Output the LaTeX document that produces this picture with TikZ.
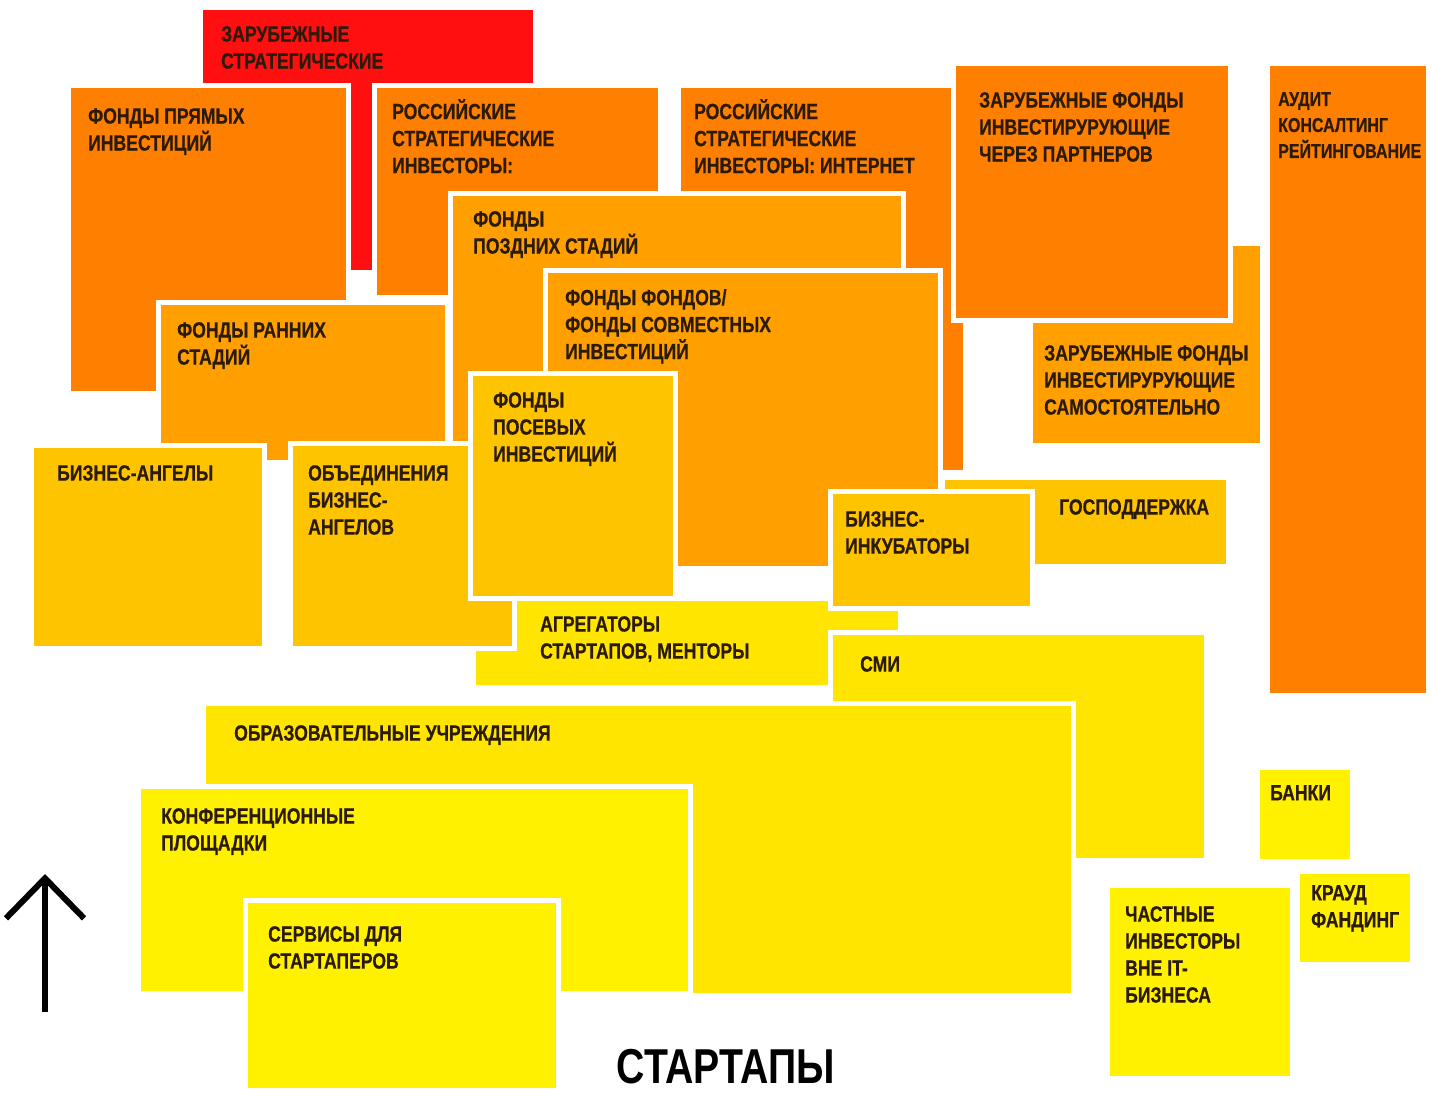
\documentclass[tikz,border=0pt]{standalone}
\usepackage{fontspec}
\setmainfont{Liberation Sans}
\newfontfamily\platefont{Liberation Sans}[FakeStretch=0.8, BoldFeatures={FakeBold=0.6}]
\newfontfamily\titlefont{Liberation Sans}[FakeStretch=0.8]
\usetikzlibrary{arrows.meta}

\definecolor{redc}{HTML}{FF0F0F}
\definecolor{orA}{HTML}{FF7F00}
\definecolor{orB}{HTML}{FFA000}
\definecolor{ylA}{HTML}{FFC400}
\definecolor{ylB}{HTML}{FFE500}
\definecolor{ylC}{HTML}{FFF100}
\definecolor{ink}{HTML}{2B1B06}

\begin{document}
\begin{tikzpicture}[x=1pt, y=-1pt,
	plate/.style={draw=white, line width=5pt},
	lbl/.style={anchor=north west, inner sep=0pt, align=left, text=ink,
		font=\platefont\bfseries\fontsize{22}{27}\selectfont},
	smalllbl/.style={lbl, font=\platefont\bfseries\fontsize{20}{26}\selectfont},
	uparrow/.style={line width=6pt, -{Straight Barb[length=40pt, width=78pt]}}]
	\useasboundingbox (0,0) rectangle (1431,1095);

	\draw[plate, fill=redc] (200,7) rectangle (535,272);
	\node[lbl] (zarstrat) at (221,26) {ЗАРУБЕЖНЫЕ\\СТРАТЕГИЧЕСКИЕ};

	\draw[plate, fill=orA] (68,85) rectangle (348,393);
	\node[lbl] (pryamye) at (88,108) {ФОНДЫ ПРЯМЫХ\\ИНВЕСТИЦИЙ};
	\draw[plate, fill=orA] (374,85) rectangle (660,297);
	\node[lbl] (rosstrat) at (392,99) {РОССИЙСКИЕ\\СТРАТЕГИЧЕСКИЕ\\ИНВЕСТОРЫ:};
	\draw[plate, fill=orA] (678,85) rectangle (965,472);
	\node[lbl] (rosinet) at (694,99) {РОССИЙСКИЕ\\СТРАТЕГИЧЕСКИЕ\\ИНВЕСТОРЫ: ИНТЕРНЕТ};
	\draw[plate, fill=orB] (1030,243) rectangle (1262,445);
	\node[lbl] (zarsam) at (1044,345) {ЗАРУБЕЖНЫЕ ФОНДЫ\\ИНВЕСТИРУРУЮЩИЕ\\САМОСТОЯТЕЛЬНО};
	\draw[plate, fill=orA] (953,63) rectangle (1230,320);
	\node[lbl] (zarpart) at (979,92) {ЗАРУБЕЖНЫЕ ФОНДЫ\\ИНВЕСТИРУРУЮЩИЕ\\ЧЕРЕЗ ПАРТНЕРОВ};
	\draw[plate, fill=orA] (1267,63) rectangle (1428,695);
	\node[smalllbl] (audit) at (1278,92) {АУДИТ\\КОНСАЛТИНГ\\РЕЙТИНГОВАНИЕ};

	\draw[plate, fill=orB] (450,193) rectangle (903,460);
	\node[lbl] (pozd) at (473,211) {ФОНДЫ\\ПОЗДНИХ СТАДИЙ};
	\draw[plate, fill=orB] (158,302) rectangle (447,462);
	\node[lbl] (rann) at (177,322) {ФОНДЫ РАННИХ\\СТАДИЙ};
	\draw[plate, fill=orB] (545,270) rectangle (940,568);
	\node[lbl] (fof) at (565,289) {ФОНДЫ ФОНДОВ/\\ФОНДЫ СОВМЕСТНЫХ\\ИНВЕСТИЦИЙ};

	\draw[plate, fill=ylA] (942,477) rectangle (1228,566);
	\node[lbl] (gos) at (1059,499) {ГОСПОДДЕРЖКА};
	\draw[plate, fill=ylB] (473,598) rectangle (900,687);
	\node[lbl] (agr) at (540,616) {АГРЕГАТОРЫ\\СТАРТАПОВ, МЕНТОРЫ};
	\draw[plate, fill=ylA] (31,445) rectangle (264,648);
	\node[lbl] (angely) at (57,465) {БИЗНЕС-АНГЕЛЫ};
	\draw[plate, fill=ylA] (290,443) rectangle (514,648);
	\node[lbl] (obed) at (308,465) {ОБЪЕДИНЕНИЯ\\БИЗНЕС-\\АНГЕЛОВ};
	\draw[plate, fill=ylA] (470,373) rectangle (675,598);
	\node[lbl] (posev) at (493,392) {ФОНДЫ\\ПОСЕВЫХ\\ИНВЕСТИЦИЙ};
	\draw[plate, fill=ylA] (830,491) rectangle (1032,608);
	\node[lbl] (inkub) at (845,511) {БИЗНЕС-\\ИНКУБАТОРЫ};

	\draw[plate, fill=ylB] (830,632) rectangle (1206,860);
	\node[lbl] (smi) at (860,656) {СМИ};
	\draw[plate, fill=ylB] (203,703) rectangle (1073,995);
	\node[lbl] (obraz) at (234,725) {ОБРАЗОВАТЕЛЬНЫЕ УЧРЕЖДЕНИЯ};
	\draw[plate, fill=ylC] (138,786) rectangle (690,993);
	\node[lbl] (konf) at (161,808) {КОНФЕРЕНЦИОННЫЕ\\ПЛОЩАДКИ};
	\draw[plate, fill=ylC] (245,900) rectangle (558,1090);
	\node[lbl] (servis) at (268,926) {СЕРВИСЫ ДЛЯ\\СТАРТАПЕРОВ};

	\draw[plate, fill=ylC] (1257,767) rectangle (1352,861);
	\node[lbl] (banki) at (1270,785) {БАНКИ};
	\draw[plate, fill=ylC] (1297,871) rectangle (1412,964);
	\node[lbl] (kraud) at (1311,885) {КРАУД\\ФАНДИНГ};
	\draw[plate, fill=ylC] (1107,885) rectangle (1292,1078);
	\node[lbl] (chast) at (1125,906) {ЧАСТНЫЕ\\ИНВЕСТОРЫ\\ВНЕ IT-\\БИЗНЕСА};

	\coordinate (foot) at (45,1012);
	\coordinate (tip) at (45,874);
	\draw[uparrow] (foot) -- (tip);
	\node[anchor=base, font=\titlefont\bfseries\fontsize{49}{49}\selectfont] (startapy) at (726,1083) {СТАРТАПЫ};
\end{tikzpicture}
\end{document}
